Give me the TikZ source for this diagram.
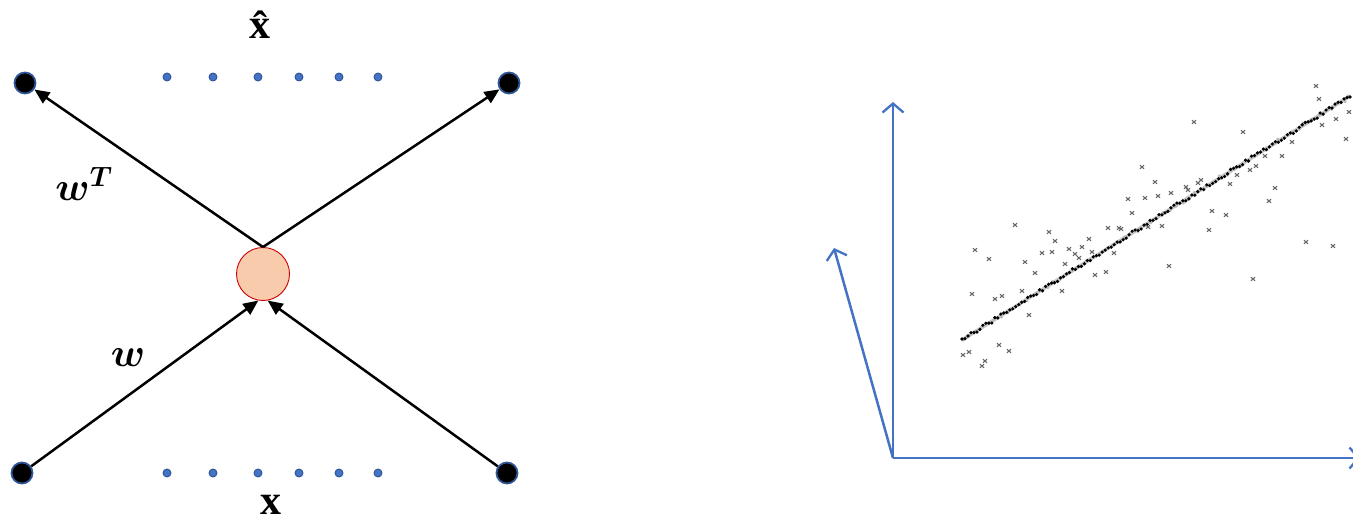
\documentclass[tikz,border=0pt]{standalone}
\usepackage{fix-cm}
\usepackage{amsmath}
\usepackage{bm}
\usepackage{fontspec}
\newfontfamily\lserif{Liberation Serif}
\usetikzlibrary{arrows.meta}
\definecolor{axblue}{HTML}{4472C4}
\definecolor{dkblue}{HTML}{2F5597}
\definecolor{peach}{HTML}{F8CBAD}
\definecolor{crossgray}{HTML}{666666}
\tikzset{
  unit/.style={circle, fill=black, draw=dkblue, line width=1.8pt, minimum size=21pt, inner sep=0pt},
  hidden/.style={circle, fill=axblue, draw=dkblue, line width=0.9pt, minimum size=8pt, inner sep=0pt},
  core/.style={circle, fill=peach, draw=red!80!black, line width=0.9pt, minimum size=53pt, inner sep=0pt},
  conn/.style={line width=2.5pt, -{Triangle[length=15pt,width=13pt]}},
  lbl/.style={inner sep=0pt, text=black},
  axis/.style={draw=axblue, line width=2.5pt, -{Straight Barb[length=9pt,width=21pt,line width=2.3pt]}},
  crossst/.style={draw=crossgray, line width=1.1pt},
  cross/.pic={\draw[crossst] (-2,-1.8)--(2,1.8) (-2,1.8)--(2,-1.8);}
}
\begin{document}
\begin{tikzpicture}[x=1pt,y=-1pt]
\useasboundingbox (0,0) rectangle (1353,523);
% ---------- left network ----------
\node[unit] (tl) at (25,83) {};
\node[unit] (tr) at (509,83) {};
\node[unit] (bl) at (22,473) {};
\node[unit] (br) at (507,473) {};
\node[core] (c) at (263,274) {};
\foreach \x [count=\i] in {167,213,258,299,339,378}{
  \node[hidden] (t\i) at (\x,77) {};
  \node[hidden] (b\i) at (\x,473) {};
}
\draw[conn] (c.north) -- (tl);
\draw[conn] (c.north) -- (tr);
\draw[conn] (bl) -- (c.-100);
\draw[conn] (br) -- (c.-80);
\node[lbl] (xhat) at (260,25) {\fontsize{42}{46}\selectfont\lserif\bfseries x̂};
\node[lbl] (xin) at (271,505) {\fontsize{42}{46}\selectfont\lserif\bfseries x};
\node[lbl] (wT) at (84,184) {\fontsize{40}{44}\selectfont $\bm{w}^{\bm{T}}$};
\node[lbl] (w) at (128,358) {\fontsize{40}{44}\selectfont $\bm{w}$};
% ---------- right plot ----------
\coordinate (o) at (893,458);
\coordinate (ytip) at (893,102);
\coordinate (xtip) at (1360,458);
\coordinate (ptip) at (834,248);
\draw[axis] (o) -- (ytip);
\draw[axis] (o) -- (xtip);
\draw[axis] (o) -- (ptip);
% fitted line (blurred gray under black dots)
\draw[gray!45, line width=3.5pt] (962,340) -- (1350,96);
\pgfmathsetseed{11}
\foreach \i in {0,...,60}{
  \pgfmathsetmacro{\tt}{\i/60}
  \pgfmathsetmacro{\px}{962+\tt*388+2*rand}
  \pgfmathsetmacro{\py}{340-\tt*244+2*rand}
  \fill[gray!55] (\px,\py) circle (1.6pt);
}
\foreach \i in {0,...,130}{
  \pgfmathsetmacro{\tt}{\i/130}
  \pgfmathsetmacro{\px}{962+\tt*388}
  \pgfmathsetmacro{\py}{340-\tt*244+1.8*rand}
  \fill[black] (\px,\py) circle (1.8pt);
}
\foreach \p in {(1316,86),(1319,99),(1194,122),(1243,132),(1349,112),(1336,119),(1322,125),(1346,139),
  (1292,142),(1282,156),(1265,156),(1256,166),(1250,170),(1237,175),(1230,184),(1142,167),(1155,182),
  (1201,180),(1198,183),(1186,187),(1188,190),(1128,199),(1145,198),(1158,196),(1171,193),(1132,213),
  (1275,188),(1269,201),(1212,211),(1226,215),(1209,230),(1162,226),(1148,227),(1108,228),(1119,228),
  (1121,229),(1015,225),(1049,232),(1055,241),(1089,239),(1082,247),(1069,249),(1075,254),(1079,258),
  (1052,252),(1042,253),(1092,252),(1114,253),(1065,264),(975,250),(989,259),(1025,262),(1035,273),
  (1095,275),(1106,272),(1169,266),(1306,242),(1333,246),(1253,279),(972,294),(995,299),(1002,296),
  (1022,291),(1062,291),(1029,315),(969,352),(963,355),(999,345),(1009,351),(982,366),(985,361)}{
  \pic at \p {cross};
}
\end{tikzpicture}
\end{document}
